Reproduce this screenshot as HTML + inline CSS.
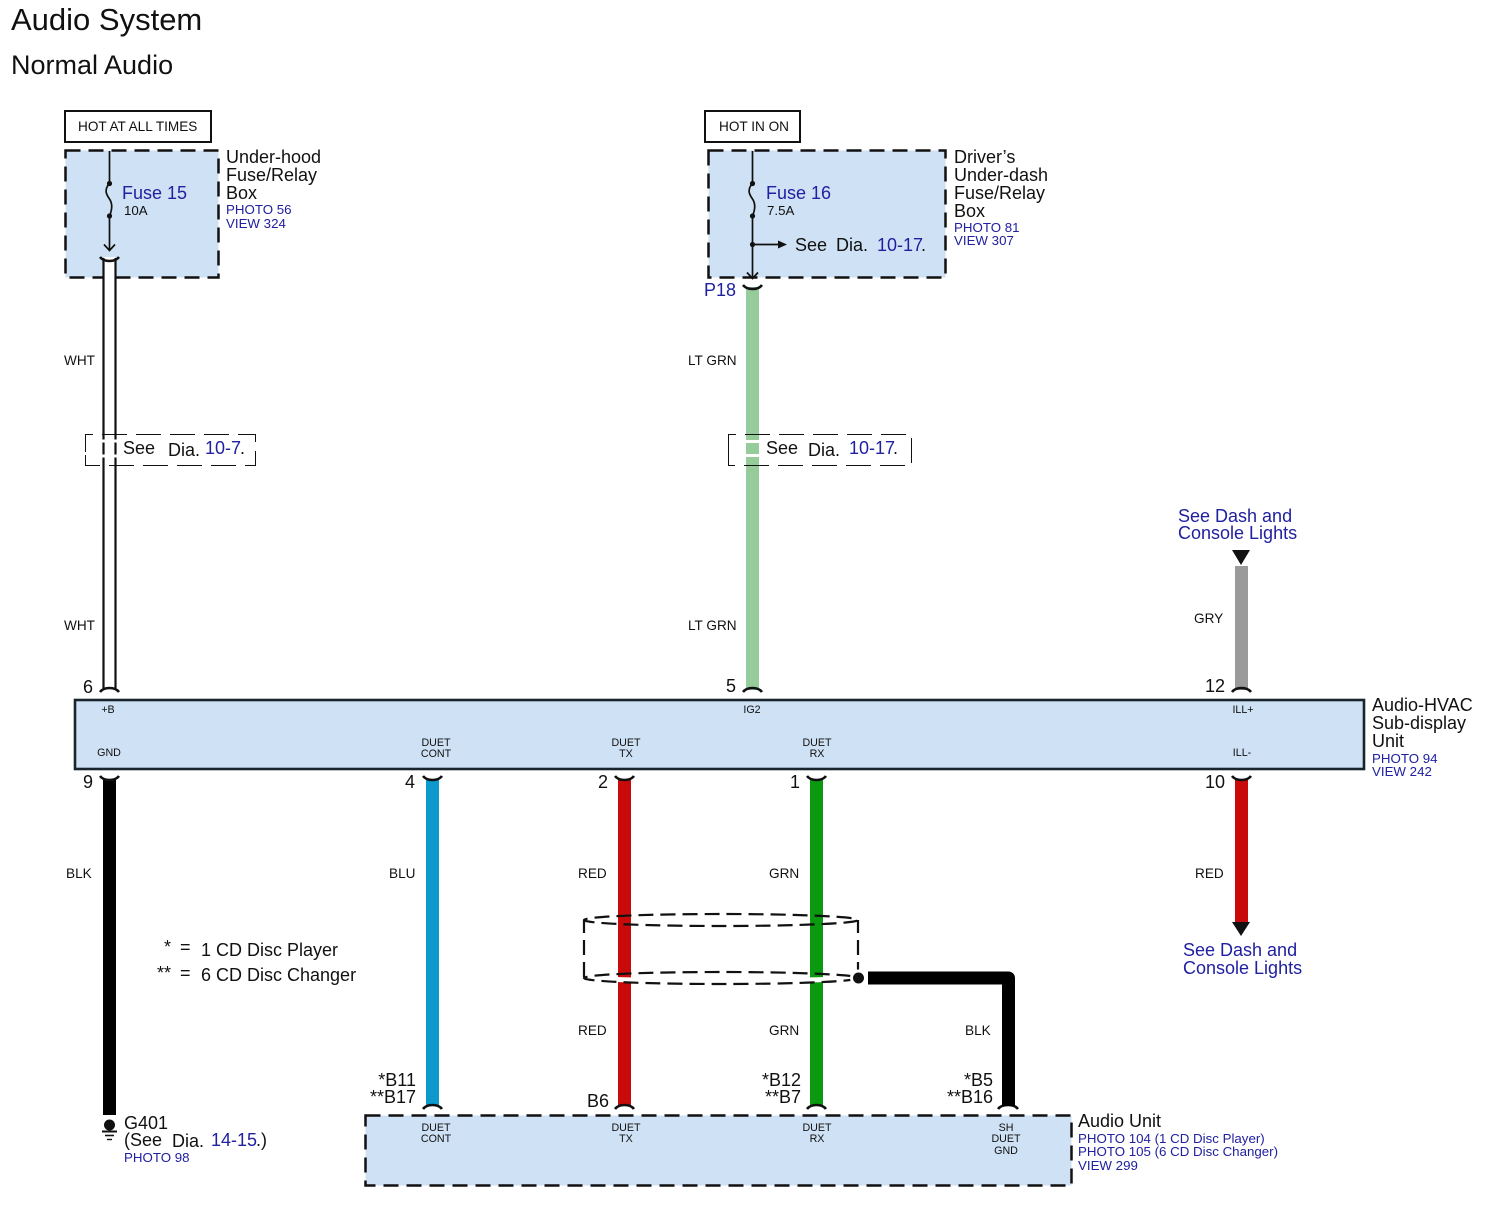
<!DOCTYPE html>
<html><head><meta charset="utf-8"><style>
html,body{margin:0;padding:0;background:#fff}
svg{display:block}
text{font-family:"Liberation Sans",sans-serif;fill:#111}
.b{fill:#2020a0}
.s{font-size:13.600px}
.m{font-size:18px}
.p{font-size:13.300px;fill:#2020a0}
.t{font-size:10.700px}
.c{text-anchor:middle}
.e{text-anchor:end}
.box{fill:#cfe1f4;stroke:#111;stroke-width:2.500;stroke-dasharray:15 8}
.arc{fill:none;stroke:#111;stroke-width:2.600}
.thin{fill:none;stroke:#111;stroke-width:1.700}
.d{fill:none;stroke:#111;stroke-width:1;stroke-dasharray:25 9}
.el{fill:none;stroke:#111;stroke-width:2.200;stroke-dasharray:15 7}
</style></head><body>
<svg width="1486" height="1207" viewBox="0 0 1486 1207" xmlns="http://www.w3.org/2000/svg">
<rect width="1486" height="1207" fill="#fff"/>
<text x="11" y="30" font-size="31">Audio System</text>
<text x="11" y="74" font-size="27">Normal Audio</text>

<!-- Left fuse box -->
<rect x="65" y="111" width="146" height="31" fill="#fff" stroke="#111" stroke-width="2"/>
<text x="78" y="131" class="s">HOT AT ALL TIMES</text>
<rect x="65.500" y="150.500" width="153" height="127" class="box"/>
<path d="M109.500 151V183M109.500 216V250M104 244.500L109.500 250.500L115 244.500" class="thin"/>
<path d="M109.500 183C104 190 106 194 109.500 199C113 204 112 210 109.500 216" class="thin"/>
<circle cx="109.500" cy="183.500" r="2.600" fill="#111"/><circle cx="109.500" cy="216" r="2.600" fill="#111"/>
<text x="122" y="199" class="m b">Fuse 15</text>
<text x="124" y="215" font-size="13.300">10A</text>
<text x="226" y="163" class="m">Under-hood</text>
<text x="226" y="181" class="m">Fuse/Relay</text>
<text x="226" y="199" class="m">Box</text>
<text x="226" y="214" class="p">PHOTO 56</text>
<text x="226" y="228" class="p">VIEW 324</text>

<!-- Right fuse box -->
<rect x="705" y="111" width="95" height="31" fill="#fff" stroke="#111" stroke-width="2"/>
<text x="719" y="131" class="s">HOT IN ON</text>
<rect x="708.500" y="150.500" width="237" height="127" class="box"/>
<path d="M752.500 151V183M752.500 216V278M747 272.500L752.500 278.500L758 272.500M752.500 244.500H780" class="thin"/>
<path d="M752.500 183C747 190 749 194 752.500 199C756 204 755 210 752.500 216" class="thin"/>
<path d="M787 244.500L778 240.500V248.500Z" fill="#111"/>
<circle cx="752.500" cy="183.500" r="2.600" fill="#111"/><circle cx="752.500" cy="216" r="2.600" fill="#111"/><circle cx="752.500" cy="244.500" r="2.600" fill="#111"/>
<text x="766" y="199" class="m b">Fuse 16</text>
<text x="767" y="215" font-size="13.300">7.5A</text>
<text x="795" y="251" class="m">See</text><text x="836" y="251" class="m">Dia.</text><text x="877" y="251" class="m b">10-17</text><text x="921" y="251" class="m">.</text>
<text x="954" y="163" class="m">Driver’s</text>
<text x="954" y="181" class="m">Under-dash</text>
<text x="954" y="199" class="m">Fuse/Relay</text>
<text x="954" y="217" class="m">Box</text>
<text x="954" y="232" class="p">PHOTO 81</text>
<text x="954" y="245" class="p">VIEW 307</text>
<text x="704" y="296" class="m b">P18</text>

<!-- Upper wires -->
<rect x="104" y="257" width="11" height="433" fill="#fff"/>
<path d="M103.500 258V690M115.500 258V690" fill="none" stroke="#111" stroke-width="2.200"/>
<rect x="746" y="287" width="13" height="403" fill="#96cb9c"/>
<rect x="1235" y="566" width="13" height="124" fill="#9a9a9a"/>
<path d="M100 257Q103 261 109.500 261Q116 261 119 257M100 692Q103 688 109.500 688Q116 688 119 692M743 285Q746 289 752.500 289Q759 289 762 285M743 692Q746 688 752.500 688Q759 688 762 692M1232 692Q1235 688 1241.500 688Q1248 688 1251 692" class="arc"/>

<!-- See Dia boxes -->
<path d="M85.500 452V434.500H255.500V465.500H85.500V452" class="d"/>
<path d="M102 441H117M102 456H117" stroke="#fff" stroke-width="3"/>
<text x="123" y="454" class="m">See</text><text x="168" y="456" class="m">Dia.</text><text x="205" y="454" class="m b">10-7</text><text x="240" y="454" class="m">.</text>
<path d="M728.500 452V434.500H911.500V465.500H728.500V452" class="d"/>
<path d="M745 441.500H760M745 455.500H760" stroke="#fff" stroke-width="3"/>
<text x="766" y="454" class="m">See</text><text x="808" y="456" class="m">Dia.</text><text x="849" y="454" class="m b">10-17</text><text x="893" y="454" class="m">.</text>

<text x="64" y="365" class="s">WHT</text>
<text x="64" y="630" class="s">WHT</text>
<text x="688" y="365" class="s">LT GRN</text>
<text x="688" y="630" class="s">LT GRN</text>
<text x="1194" y="623" class="s">GRY</text>

<text x="1178" y="522" class="m b">See Dash and</text>
<text x="1178" y="539" class="m b">Console Lights</text>
<path d="M1232 550H1250L1241 565Z" fill="#111"/>

<text x="93" y="693" class="m e">6</text>
<text x="736" y="692" class="m e">5</text>
<text x="1225" y="692" class="m e">12</text>

<!-- Sub-display unit -->
<rect x="75" y="700" width="1289" height="69" fill="#cfe1f4" stroke="#18262c" stroke-width="2.600"/>
<text x="108" y="713" class="c t">+B</text>
<text x="752" y="713" class="c t">IG2</text>
<text x="1243" y="713" class="c t">ILL+</text>
<text x="109" y="756" class="c t">GND</text>
<text x="436" y="746" class="c t">DUET</text><text x="436" y="757" class="c t">CONT</text>
<text x="626" y="746" class="c t">DUET</text><text x="626" y="757" class="c t">TX</text>
<text x="817" y="746" class="c t">DUET</text><text x="817" y="757" class="c t">RX</text>
<text x="1242" y="756" class="c t">ILL-</text>
<text x="1372" y="711" class="m">Audio-HVAC</text>
<text x="1372" y="729" class="m">Sub-display</text>
<text x="1372" y="747" class="m">Unit</text>
<text x="1372" y="763" class="p">PHOTO 94</text>
<text x="1372" y="776" class="p">VIEW 242</text>

<!-- Lower wires -->
<rect x="103" y="780" width="13" height="335" fill="#000"/>
<rect x="426" y="780" width="13" height="326" fill="#0d99cc"/>
<rect x="618" y="780" width="13" height="326" fill="#c80a0a"/>
<rect x="810" y="780" width="13" height="326" fill="#0a990f"/>
<rect x="1235" y="780" width="13" height="142" fill="#c80a0a"/>
<path d="M1232 922H1250L1241 936Z" fill="#111"/>
<path d="M100 776Q103 780 109.500 780Q116 780 119 776M423 776Q426 780 432.500 780Q439 780 442 776M615 776Q618 780 624.500 780Q631 780 634 776M807 776Q810 780 816.500 780Q823 780 826 776M1232 776Q1235 780 1241.500 780Q1248 780 1251 776" class="arc"/>
<path d="M423 1109Q426 1105 432.500 1105Q439 1105 442 1109M615 1109Q618 1105 624.500 1105Q631 1105 634 1109M807 1109Q810 1105 816.500 1105Q823 1105 826 1109M998 1109Q1001 1105 1008 1105Q1015 1105 1018 1109" class="arc"/>
<text x="93" y="788" class="m e">9</text>
<text x="415" y="788" class="m e">4</text>
<text x="608" y="788" class="m e">2</text>
<text x="800" y="788" class="m e">1</text>
<text x="1225" y="788" class="m e">10</text>
<text x="66" y="878" class="s">BLK</text>
<text x="389" y="878" class="s">BLU</text>
<text x="578" y="878" class="s">RED</text>
<text x="769" y="878" class="s">GRN</text>
<text x="1195" y="878" class="s">RED</text>
<text x="578" y="1035" class="s">RED</text>
<text x="769" y="1035" class="s">GRN</text>
<text x="965" y="1035" class="s">BLK</text>

<!-- Shield -->
<path d="M868 978H1008.500V1106" fill="none" stroke="#000" stroke-width="13" stroke-linejoin="round"/>
<path d="M584 978A137 2.500 0 0 0 858 978" fill="none" stroke="#fff" stroke-width="5"/>
<path d="M584 977V920M858 977V920" class="el"/>
<ellipse cx="721" cy="920" rx="137" ry="6" class="el"/>
<ellipse cx="721" cy="978" rx="137" ry="6" class="el"/>
<circle cx="858.500" cy="978" r="8.500" fill="#fff"/>
<circle cx="858.500" cy="978" r="5.500" fill="#111"/>

<text x="171" y="953" class="m e">*</text><text x="180" y="953" class="m">=</text>
<text x="201" y="956" class="m">1 CD Disc Player</text>
<text x="171" y="979" class="m e">**</text><text x="180" y="979" class="m">=</text>
<text x="201" y="981" class="m">6 CD Disc Changer</text>

<!-- Ground -->
<circle cx="109.500" cy="1125" r="5.500" fill="#111"/>
<path d="M102 1131.500H117" stroke="#111" stroke-width="2"/>
<path d="M105 1135.500H114" stroke="#111" stroke-width="1.600"/>
<path d="M107 1139.500H112" stroke="#111" stroke-width="1.400"/>
<text x="124" y="1129" class="m">G401</text>
<text x="124" y="1146" class="m">(See</text><text x="172" y="1147" class="m">Dia.</text><text x="211" y="1146" class="m b">14-15</text><text x="256" y="1146" class="m">.)</text>
<text x="124" y="1162" class="p">PHOTO 98</text>

<!-- B labels -->
<text x="416" y="1086" class="m e">*B11</text>
<text x="416" y="1103" class="m e">**B17</text>
<text x="609" y="1107" class="m e">B6</text>
<text x="801" y="1086" class="m e">*B12</text>
<text x="801" y="1103" class="m e">**B7</text>
<text x="993" y="1086" class="m e">*B5</text>
<text x="993" y="1103" class="m e">**B16</text>

<!-- Audio unit -->
<rect x="365.500" y="1115.500" width="706" height="70" class="box"/>
<text x="436" y="1131" class="c t">DUET</text><text x="436" y="1142" class="c t">CONT</text>
<text x="626" y="1131" class="c t">DUET</text><text x="626" y="1142" class="c t">TX</text>
<text x="817" y="1131" class="c t">DUET</text><text x="817" y="1142" class="c t">RX</text>
<text x="1006" y="1131" class="c t">SH</text><text x="1006" y="1142" class="c t">DUET</text><text x="1006" y="1154" class="c t">GND</text>
<text x="1078" y="1127" class="m">Audio Unit</text>
<text x="1078" y="1143" class="p">PHOTO 104 (1 CD Disc Player)</text>
<text x="1078" y="1156" class="p">PHOTO 105 (6 CD Disc Changer)</text>
<text x="1078" y="1170" class="p">VIEW 299</text>

<text x="1183" y="956" class="m b">See Dash and</text>
<text x="1183" y="974" class="m b">Console Lights</text>
</svg>
</body></html>
